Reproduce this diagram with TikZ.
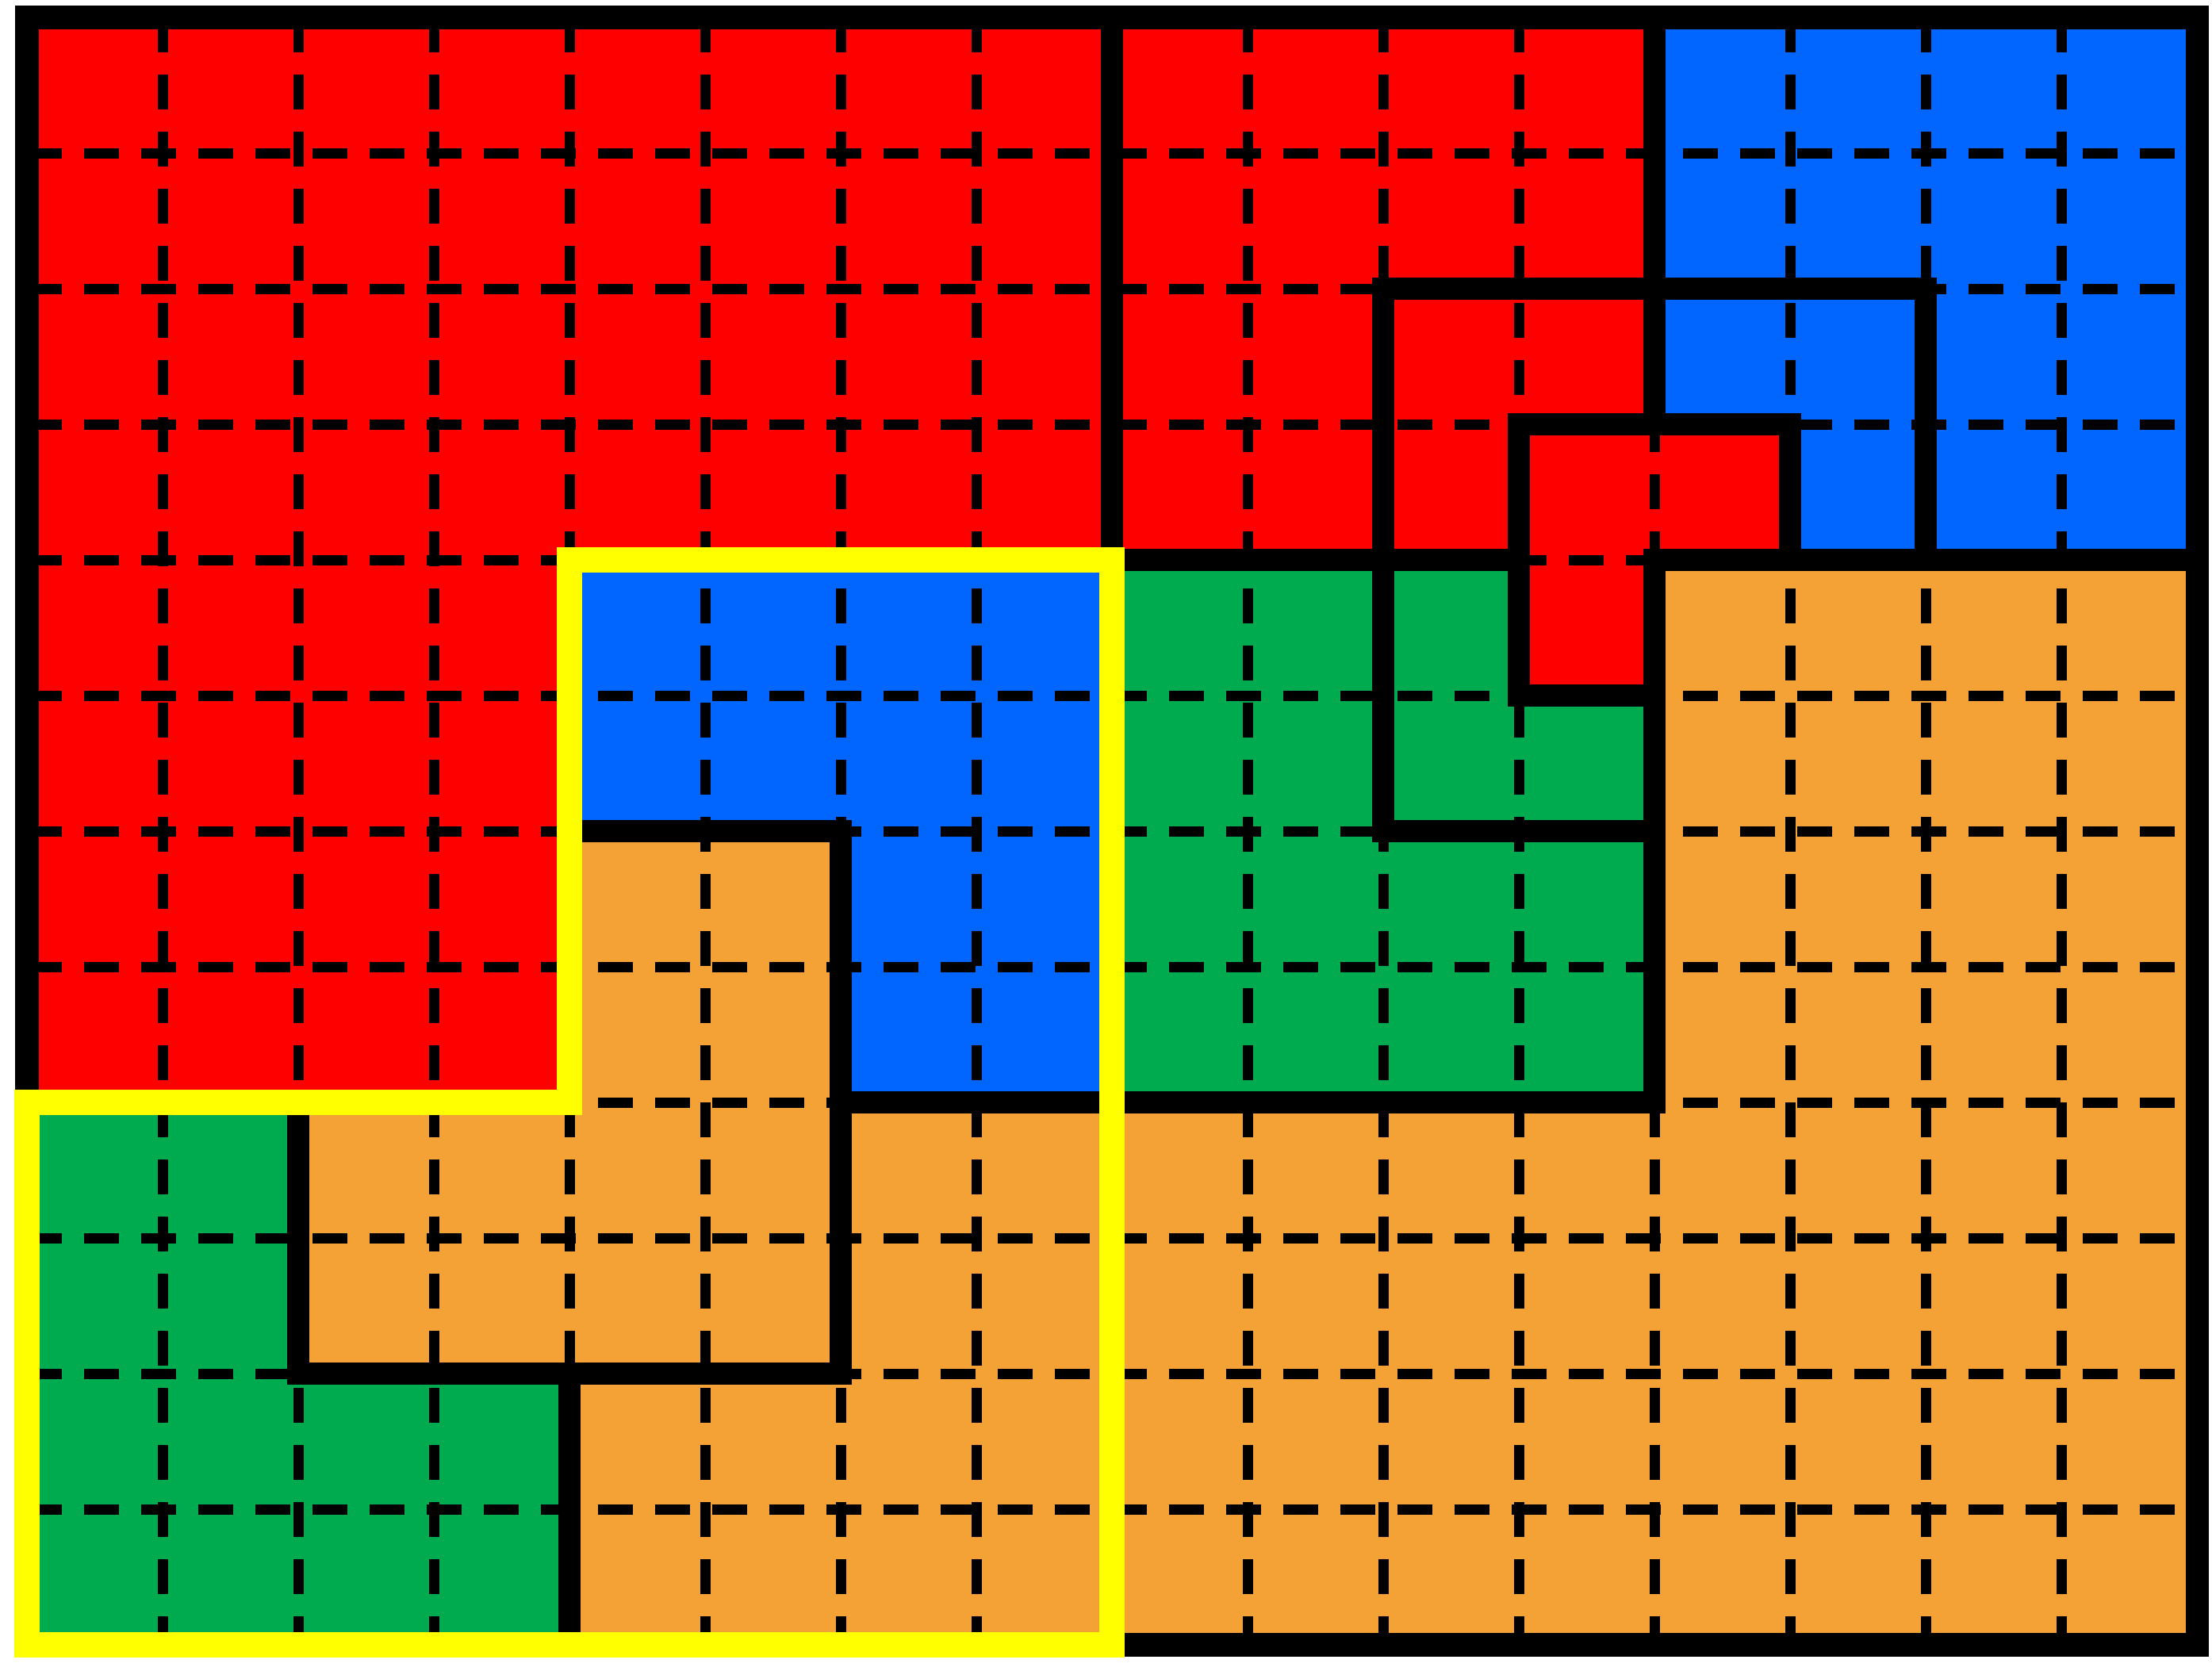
\documentclass[tikz,border=0pt]{standalone}
\usepackage{tikz}
\definecolor{cR}{RGB}{255,0,0}
\definecolor{cB}{RGB}{0,102,255}
\definecolor{cG}{RGB}{0,170,78}
\definecolor{cO}{RGB}{244,162,53}
\definecolor{cY}{RGB}{255,255,0}
\tikzset{
  gridline/.style={black,line width=0.076cm,dash pattern=on 0.257cm off 0.164cm},
  regionline/.style={black,line width=0.165cm,line cap=rect},
  borderline/.style={black,line width=0.17cm},
  yellowline/.style={cY,line width=0.19cm,line join=miter},
}
\begin{document}
\begin{tikzpicture}
\useasboundingbox (-0.199,-0.187) rectangle (16.111,12.129);
% cell colours
\fill[cG] (8,4) rectangle (12,8);
\fill[cG] (0,0) rectangle (2,4);
\fill[cG] (2,0) rectangle (4,2);
\fill[cR] (0,8) rectangle (12,12);
\fill[cR] (0,4) rectangle (4,8);
\fill[cR] (12,8) rectangle (13,9);
\fill[cR] (11,7) rectangle (12,8);
\fill[cB] (12,9) rectangle (16,12);
\fill[cB] (13,8) rectangle (16,9);
\fill[cB] (4,6) rectangle (8,8);
\fill[cB] (6,4) rectangle (8,6);
\fill[cO] (12,0) rectangle (16,8);
\fill[cO] (4,0) rectangle (12,4);
\fill[cO] (2,2) rectangle (4,4);
\fill[cO] (4,4) rectangle (6,6);
% dashed grid
\foreach \x in {1,...,15} \draw[gridline] (\x,12) -- (\x,0);
\foreach \y in {1,...,11} \draw[gridline] (0,\y) -- (16,\y);
% region boundaries
\draw[regionline] (8,12) -- (8,8) -- (11,8);
\draw[regionline] (12,12) -- (12,9);
\draw[regionline] (10,6) -- (10,10) -- (14,10) -- (14,8);
\draw[regionline] (12,8) -- (16,8);
\draw[regionline] (10,6) -- (12,6);
\draw[regionline] (11,7) -- (11,9) -- (13,9) -- (13,8);
\draw[regionline] (11,7) -- (12,7);
\draw[regionline] (12,8) -- (12,4) -- (6,4);
\draw[regionline] (4,6) -- (6,6) -- (6,2) -- (2,2) -- (2,4);
\draw[regionline] (4,2) -- (4,0);
\draw[regionline] (0,4) -- (4,4) -- (4,8) -- (8,8) -- (8,0);
% outer border
\draw[borderline] (0,0) rectangle (16,12);
% yellow outline
\draw[yellowline] (4,8) -- (8,8) -- (8,0) -- (0,0) -- (0,4) -- (4,4) -- cycle;
\end{tikzpicture}
\end{document}
